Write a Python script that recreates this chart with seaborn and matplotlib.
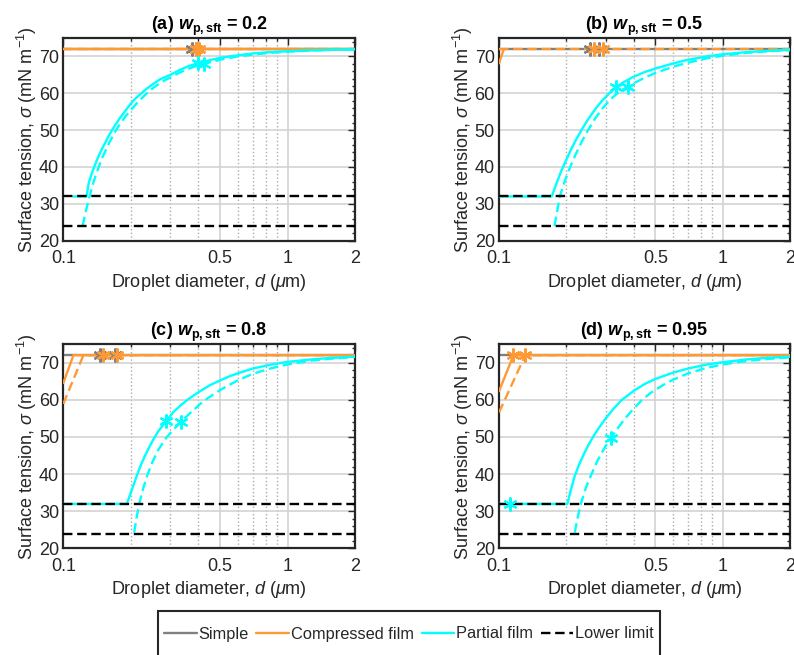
import matplotlib
matplotlib.use("Agg")
from matplotlib import pyplot as plt
from matplotlib.lines import Line2D
from matplotlib.patches import Rectangle
from matplotlib.ticker import FixedLocator, NullFormatter, MultipleLocator
import seaborn as sns

# panel settings
panel_letters = ["a", "b", "c", "d"]
w_psft = ["0.2", "0.5", "0.8", "0.95"]
lower_limits = [32.0, 24.0]
sigma_simple = 72.0
d_range = [0.1, 2.0]

# partial film, solid (d in um, sigma in mN/m)
d_pf_a = [0.111, 0.127, 0.13, 0.135, 0.14, 0.145, 0.15, 0.16, 0.17, 0.18, 0.19, 0.2, 0.21, 0.22, 0.235, 0.25,
          0.27, 0.3, 0.33, 0.36, 0.4, 0.45, 0.5, 0.6, 0.7, 0.85, 1.0, 1.3, 1.6, 2.0]
s_pf_a = [32.0, 32.0, 35.8, 38.8, 41.3, 43.5, 45.3, 48.6, 51.3, 53.5, 55.4, 57.2, 58.6, 59.7, 61.2, 62.4,
          63.8, 65.0, 66.3, 67.3, 68.2, 69.0, 69.6, 70.3, 70.8, 71.2, 71.4, 71.65, 71.8, 71.9]
d_pf_b = [0.1, 0.172, 0.18, 0.19, 0.2, 0.21, 0.22, 0.235, 0.25, 0.27, 0.29, 0.31, 0.335, 0.36, 0.4, 0.45,
          0.5, 0.6, 0.7, 0.85, 1.0, 1.3, 1.6, 2.0]
s_pf_b = [32.0, 32.0, 35.3, 39.0, 42.0, 44.8, 47.2, 50.3, 52.9, 55.8, 58.1, 59.9, 61.7, 63.0, 64.5, 65.8,
          66.7, 68.1, 69.1, 70.0, 70.6, 71.2, 71.5, 71.8]
d_pf_c = [0.1, 0.192, 0.2, 0.207, 0.214, 0.222, 0.23, 0.24, 0.252, 0.265, 0.287, 0.31, 0.335, 0.36, 0.4, 0.45,
          0.5, 0.55, 0.6, 0.7, 0.85, 1.0, 1.3, 1.6, 2.0]
s_pf_c = [32.0, 32.0, 35.0, 37.5, 40.0, 42.5, 44.6, 46.9, 49.3, 51.5, 54.2, 56.7, 58.6, 60.1, 62.0, 63.9,
          65.2, 66.3, 67.1, 68.4, 69.5, 70.2, 70.9, 71.3, 71.6]
d_pf_d = [0.1, 0.202, 0.21, 0.218, 0.228, 0.24, 0.252, 0.265, 0.28, 0.3, 0.325, 0.353, 0.4, 0.45, 0.5, 0.6,
          0.7, 0.85, 1.0, 1.3, 1.6, 2.0]
s_pf_d = [32.0, 32.0, 36.0, 39.5, 42.6, 45.5, 48.0, 50.3, 52.5, 55.0, 57.6, 59.9, 62.4, 64.3, 65.6, 67.3,
          68.4, 69.5, 70.1, 70.9, 71.3, 71.6]

# partial film, dashed
d_pfd_a = [0.122, 0.126, 0.131, 0.135, 0.14, 0.145, 0.15, 0.16, 0.17, 0.18, 0.19, 0.2, 0.21, 0.22, 0.235, 0.25,
           0.27, 0.3, 0.33, 0.36, 0.4, 0.43, 0.5, 0.6, 0.7, 0.85, 1.0, 1.3, 1.6, 2.0]
s_pfd_a = [24.0, 28.0, 32.0, 35.0, 38.0, 40.5, 42.8, 46.5, 49.5, 51.9, 53.8, 55.4, 56.9, 58.2, 59.9, 61.3,
           62.8, 64.3, 65.6, 66.6, 67.6, 68.1, 69.1, 70.0, 70.5, 71.0, 71.3, 71.6, 71.8, 71.9]
d_pfd_b = [0.177, 0.182, 0.187, 0.195, 0.2, 0.21, 0.22, 0.235, 0.25, 0.27, 0.29, 0.31, 0.335, 0.36, 0.377, 0.4,
           0.45, 0.5, 0.6, 0.7, 0.85, 1.0, 1.3, 1.6, 2.0]
s_pfd_b = [24.0, 28.0, 32.0, 35.5, 37.3, 40.6, 43.4, 47.0, 50.0, 53.3, 55.9, 57.9, 59.8, 61.1, 61.8, 62.7,
           64.3, 65.5, 67.2, 68.3, 69.5, 70.2, 71.0, 71.4, 71.7]
d_pfd_c = [0.207, 0.212, 0.218, 0.228, 0.238, 0.25, 0.265, 0.289, 0.31, 0.334, 0.36, 0.39, 0.414, 0.45, 0.5,
           0.55, 0.6, 0.7, 0.85, 1.0, 1.3, 1.6, 2.0]
s_pfd_c = [24.3, 28.0, 32.0, 36.5, 40.0, 43.3, 46.5, 49.9, 52.0, 54.0, 55.9, 57.8, 59.2, 60.8, 62.6,
           64.0, 65.2, 67.0, 68.5, 69.5, 70.6, 71.1, 71.5]
d_pfd_d = [0.218, 0.225, 0.232, 0.245, 0.259, 0.272, 0.285, 0.3, 0.316, 0.335, 0.36, 0.39, 0.433, 0.47, 0.5,
           0.55, 0.6, 0.7, 0.85, 1.0, 1.3, 1.6, 2.0]
s_pfd_d = [24.3, 28.5, 32.0, 36.5, 40.0, 42.9, 45.3, 47.6, 49.7, 51.9, 54.4, 56.9, 59.8, 61.6, 62.7,
           64.2, 65.4, 67.1, 68.6, 69.5, 70.5, 71.0, 71.4]

# compressed film, solid / dashed
d_cf_a = [0.1, 2.0]
s_cf_a = [72.0, 72.0]
d_cf_b = [0.1, 0.105]
s_cf_b = [68.1, 72.0]
d_cf_c = [0.1, 0.111, 2.0]
s_cf_c = [64.5, 72.0, 72.0]
d_cf_d = [0.1, 0.116, 2.0]
s_cf_d = [62.3, 72.0, 72.0]
d_cfd_a = [0.1, 2.0]
s_cfd_a = [72.0, 72.0]
d_cfd_b = [0.1, 2.0]
s_cfd_b = [72.0, 72.0]
d_cfd_c = [0.1, 0.123, 2.0]
s_cfd_c = [58.9, 72.0, 72.0]
d_cfd_d = [0.1, 0.131, 2.0]
s_cfd_d = [56.6, 72.0, 72.0]

# asterisk markers (d values), simple & compressed sit at 72
d_mark_simple = [[0.375, 0.39], [0.255, 0.28], [0.146, 0.170], []]
d_mark_cf = [[0.39, 0.405], [0.265, 0.293], [0.150, 0.174], [0.116, 0.131]]
d_mark_pf = [[0.40, 0.425], [0.335, 0.377], [0.287, 0.334], [0.112, 0.316]]
s_mark_pf = [[68.2, 68.0], [61.7, 61.8], [54.2, 54.0], [32.0, 49.7]]

GRAY = "#808080"
ORANGE = "#FF9933"
CYAN = "#00FFFF"
INK = "#262626"
DASH = (0, (4, 2))
FS = 13

sns.set_style("white")
plt.rcParams["font.family"] = ["Liberation Sans", "DejaVu Sans"]
plt.rcParams["mathtext.fontset"] = "custom"
plt.rcParams["mathtext.rm"] = "Liberation Sans"
plt.rcParams["mathtext.it"] = "Liberation Sans:italic"
plt.rcParams["mathtext.bf"] = "Liberation Sans:bold"
plt.rcParams["mathtext.bfit"] = "Liberation Sans:italic:bold"

pf_solid = [(d_pf_a, s_pf_a), (d_pf_b, s_pf_b), (d_pf_c, s_pf_c), (d_pf_d, s_pf_d)]
pf_dash = [(d_pfd_a, s_pfd_a), (d_pfd_b, s_pfd_b), (d_pfd_c, s_pfd_c), (d_pfd_d, s_pfd_d)]
cf_solid = [(d_cf_a, s_cf_a), (d_cf_b, s_cf_b), (d_cf_c, s_cf_c), (d_cf_d, s_cf_d)]
cf_dash = [(d_cfd_a, s_cfd_a), (d_cfd_b, s_cfd_b), (d_cfd_c, s_cfd_c), (d_cfd_d, s_cfd_d)]

fig = plt.figure(figsize=(7.94, 6.55), dpi=100)
boxes = [[0.0797, 0.6325, 0.3674, 0.3095],
         [0.6285, 0.6325, 0.3665, 0.3095],
         [0.0797, 0.1626, 0.3674, 0.3122],
         [0.6285, 0.1626, 0.3665, 0.3122]]


def line(ax, d, s, color, ls="-", z=3):
    sns.lineplot(x=d, y=s, ax=ax, color=color, linewidth=1.7, linestyle=ls,
                 estimator=None, sort=False, errorbar=None, legend=False, zorder=z)


def star(ax, d, s, color):
    if len(d) == 0:
        return
    ax.plot(d, s, linestyle="none", marker=(6, 2, 0), markersize=10,
            markeredgewidth=1.6, color=color, zorder=7)


for i in range(4):
    ax = fig.add_axes(boxes[i])
    ax.set_xscale("log")
    line(ax, d_range, [sigma_simple, sigma_simple], GRAY, z=2)
    line(ax, *cf_solid[i], ORANGE, z=3)
    line(ax, *cf_dash[i], ORANGE, DASH, z=3)
    line(ax, *pf_solid[i], CYAN, z=4)
    line(ax, *pf_dash[i], CYAN, DASH, z=4)
    for lim in lower_limits:
        line(ax, d_range, [lim, lim], "black", DASH, z=5)
    star(ax, d_mark_simple[i], [sigma_simple] * len(d_mark_simple[i]), GRAY)
    star(ax, d_mark_cf[i], [sigma_simple] * len(d_mark_cf[i]), ORANGE)
    star(ax, d_mark_pf[i], s_mark_pf[i], CYAN)

    ax.set_xlim(0.1, 2)
    ax.set_ylim(20, 75)
    ax.xaxis.set_major_locator(FixedLocator([0.1, 0.5, 1, 2]))
    ax.set_xticklabels(["0.1", "0.5", "1", "2"])
    ax.xaxis.set_minor_locator(FixedLocator([0.2, 0.3, 0.4, 0.6, 0.7, 0.8, 0.9]))
    ax.xaxis.set_minor_formatter(NullFormatter())
    ax.set_yticks([20, 30, 40, 50, 60, 70])
    ax.yaxis.set_minor_locator(MultipleLocator(2))
    ax.set_axisbelow(True)
    ax.grid(True, which="major", color="#d0d0d0", linewidth=1.1, linestyle="-")
    ax.xaxis.grid(True, which="minor", color="#aaaaaa", linewidth=1.0, linestyle=":")
    ax.tick_params(which="both", direction="in", top=True, right=True,
                   colors=INK, labelsize=FS, width=1.0)
    ax.tick_params(which="major", length=5)
    ax.tick_params(which="minor", length=2.5)
    ax.tick_params(axis="x", which="major", pad=7)
    ax.tick_params(axis="y", which="major", pad=3)
    for sp in ax.spines.values():
        sp.set_linewidth(1.6)
        sp.set_color(INK)
    ax.set_xlabel(r"Droplet diameter, $d$ ($\mu$m)", fontsize=FS, color=INK, labelpad=3)
    ax.set_ylabel(r"Surface tension, $\sigma$ (mN m$^{-1}$)", fontsize=FS, color=INK, labelpad=0)
    ax.set_title("(%s) $\\mathbfit{w}_{\\mathbf{p,sft}}$ = %s" % (panel_letters[i], w_psft[i]),
                 fontsize=FS, fontweight="bold", color="black", pad=6)

handles = [Line2D([], [], color=GRAY, lw=1.7),
           Line2D([], [], color=ORANGE, lw=1.7),
           Line2D([], [], color=CYAN, lw=1.7),
           Line2D([], [], color="black", lw=1.7, linestyle=DASH)]
labels = ["Simple", "Compressed film", "Partial film", "Lower limit"]
fig.legend(handles, labels, loc="center", bbox_to_anchor=(409 / 794, 1 - 634 / 655),
           ncol=4, frameon=False, fontsize=11.8, handlelength=2.0, handletextpad=0.12,
           columnspacing=0.45, borderaxespad=0)
fig.patches.append(Rectangle((158 / 794, -0.01), 502 / 794, 1 - 611 / 655 + 0.01,
                             transform=fig.transFigure, fill=False, edgecolor=INK,
                             linewidth=1.5, zorder=10))

fig.savefig("out.png", dpi=100)
